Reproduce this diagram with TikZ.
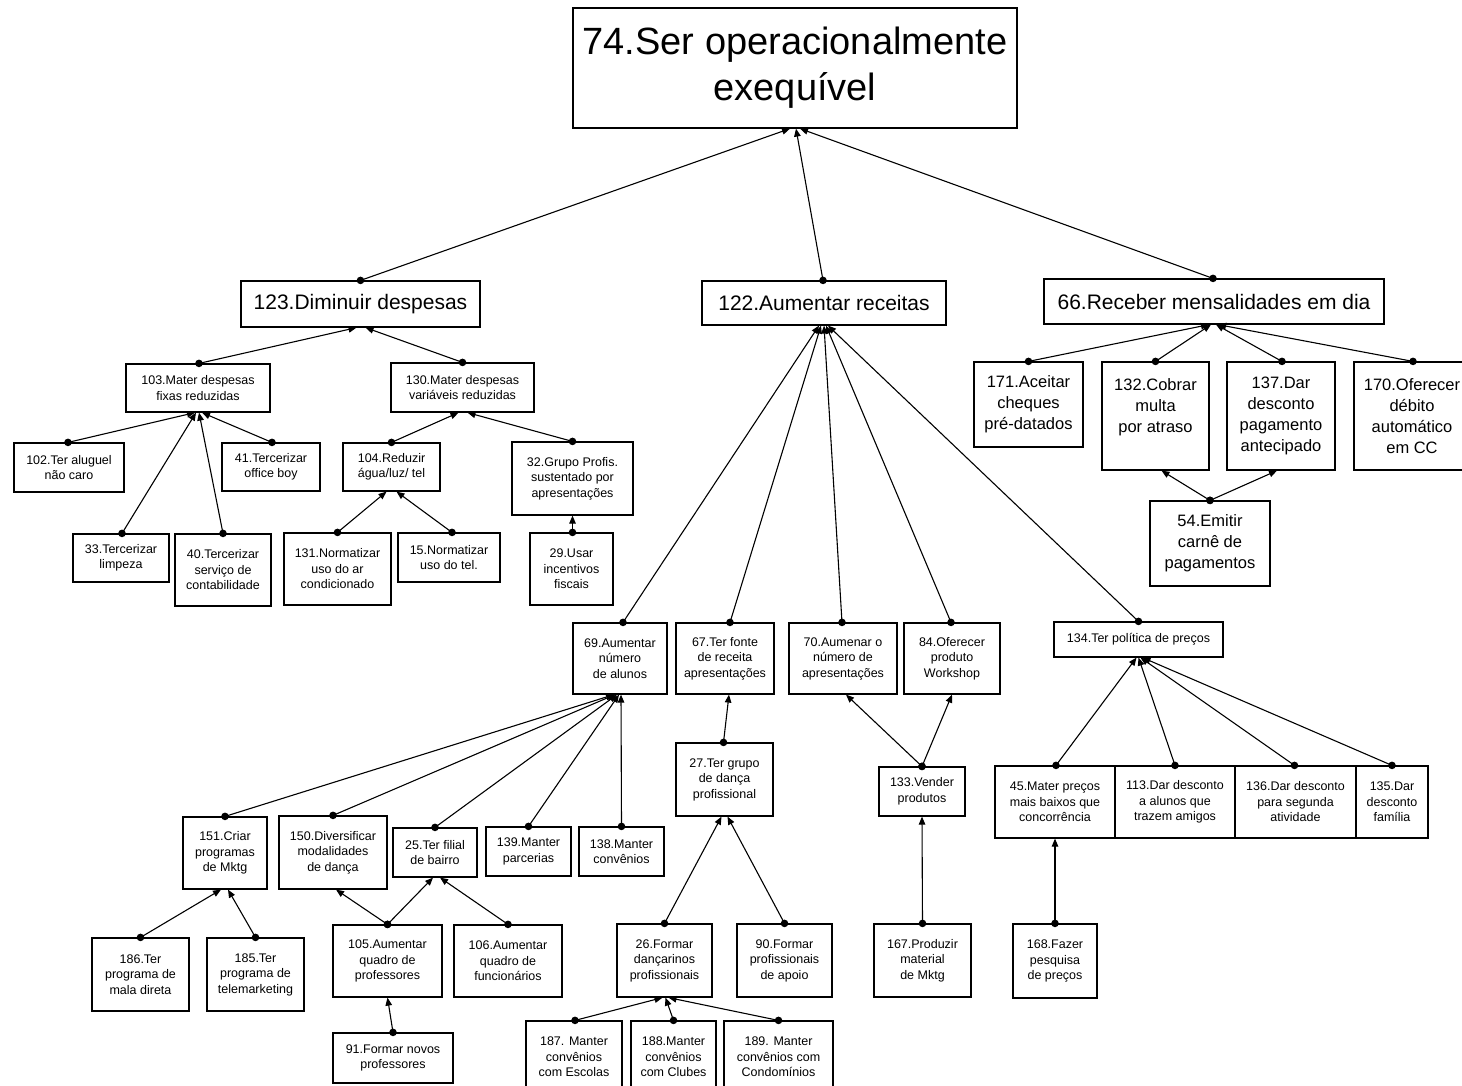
\documentclass[tikz,border=0pt]{standalone}
\usepackage{fontspec}
\setmainfont{Liberation Sans}
\usetikzlibrary{arrows.meta}
\tikzset{
 box/.style={draw=black, line width=1.2pt, align=center, inner sep=0pt, fill=white, font=\fontsize{12.5}{15.5}\selectfont},
 fm/.style={font=\fontsize{16.5}{21}\selectfont},
 fl/.style={font=\fontsize{21}{25}\selectfont},
 fxl/.style={font=\fontsize{38}{46}\selectfont},
 conn/.style={line width=1.1pt, -{Triangle[length=8pt,width=6.5pt]}},
}
\newcommand\bx[7][]{\node[box,#1,minimum width={(#5)-(#3)},minimum height={(#6)-(#4)}] (#2) at ({((#3)+(#5))/2},{((#4)+(#6))/2}) {#7};}
\newcommand\lk[4]{\draw[conn] ([xshift=#2]#1.north) -- ([xshift=#4]#3.south); \fill ([xshift=#2]#1.north) circle (3.8pt);}
\begin{document}
\begin{tikzpicture}[x=1pt,y=-1pt]
\useasboundingbox (0,0) rectangle (1462,1085);
\clip (0,0) rectangle (1462,1085);
\fill[white] (0,0) rectangle (1462,1085);
\bx[fxl]{n74}{573}{8}{1017}{128}{74.Ser operacionalmente\\exequível}
\bx[fl]{n123}{241}{281}{480}{327}{123.Diminuir despesas}
\bx[fl]{n122}{702}{281}{946}{325}{122.Aumentar receitas}
\bx[fl]{n66}{1044}{279}{1384}{324}{66.Receber mensalidades em dia}
\bx{n103}{126}{364}{270}{412}{103.Mater despesas\\fixas reduzidas}
\bx{n130}{391}{363}{534}{412}{130.Mater despesas\\variáveis reduzidas}
\bx{n102}{14}{443}{124}{492}{102.Ter aluguel\\não caro}
\bx{n41}{222}{443}{320}{491}{41.Tercerizar\\office boy}
\bx{n104}{343}{443}{440}{491}{104.Reduzir\\água/luz/ tel}
\bx{n32}{512}{442}{633}{515}{32.Grupo Profis.\\sustentado por\\apresentações}
\bx{n33}{73}{534}{169}{582}{33.Tercerizar\\limpeza}
\bx{n40}{175}{534}{271}{606}{40.Tercerizar\\serviço de\\contabilidade}
\bx{n131}{284}{533}{391}{605}{131.Normatizar\\uso do ar\\condicionado}
\bx{n15}{398}{533}{500}{582}{15.Normatizar\\uso do tel.}
\bx{n29}{530}{533}{613}{605}{29.Usar\\incentivos\\fiscais}
\bx[fm]{n171}{974}{362}{1083}{447}{171.Aceitar\\cheques\\pré-datados}
\bx[fm]{n132}{1102}{362}{1209}{470}{132.Cobrar\\multa\\por atraso\\\mbox{}}
\bx[fm]{n137}{1227}{362}{1335}{470}{137.Dar\\desconto\\pagamento\\antecipado}
\bx[fm]{n170}{1354}{362}{1470}{470}{170.Oferecer\\débito\\automático\\em CC}
\bx[fm]{n54}{1150}{501}{1270}{586}{54.Emitir\\carnê de\\pagamentos}
\bx{n69}{573}{623}{667}{694}{69.Aumentar\\número\\de alunos}
\bx{n67}{676}{623}{774}{694}{67.Ter fonte\\de receita\\apresentações}
\bx{n70}{789}{623}{897}{694}{70.Aumenar o\\número de\\apresentações}
\bx{n84}{904}{623}{1000}{694}{84.Oferecer\\produto\\Workshop}
\bx{n134}{1054}{622}{1223}{657}{134.Ter política de preços}
\bx{n27}{676}{743}{773}{816}{27.Ter grupo\\de dança\\profissional}
\bx{n133}{879}{767}{965}{816}{133.Vender\\produtos}
\bx{n45}{995}{766}{1115}{838}{45.Mater preços\\mais baixos que\\concorrência}
\bx{n113}{1115}{766}{1235}{838}{113.Dar desconto\\a alunos que\\trazem amigos}
\bx{n136}{1235}{766}{1356}{838}{136.Dar desconto\\para segunda\\atividade}
\bx{n135}{1356}{766}{1428}{838}{135.Dar\\desconto\\família}
\bx{n168}{1013}{924}{1097}{998}{168.Fazer\\pesquisa\\de preços}
\bx{n151}{183}{817}{267}{889}{151.Criar\\programas\\de Mktg}
\bx{n150}{279}{816}{387}{889}{150.Diversificar\\modalidades\\de dança}
\bx{n25}{393}{828}{477}{877}{25.Ter filial\\de bairro}
\bx{n139}{486}{827}{571}{876}{139.Manter\\parcerias}
\bx{n138}{579}{827}{664}{876}{138.Manter\\convênios}
\bx{n186}{92}{938}{189}{1011}{186.Ter\\programa de\\mala direta}
\bx{n185}{207}{938}{304}{1011}{185.Ter\\programa de\\telemarketing}
\bx{n105}{333}{925}{442}{997}{105.Aumentar\\quadro de\\professores}
\bx{n106}{454}{925}{562}{997}{106.Aumentar\\quadro de\\funcionários}
\bx{n91}{333}{1033}{453}{1083}{91.Formar novos\\professores}
\bx{n26}{617}{924}{712}{997}{26.Formar\\dançarinos\\profissionais}
\bx{n90}{737}{924}{832}{997}{90.Formar\\profissionais\\de apoio}
\bx{n167}{874}{924}{971}{997}{167.Produzir\\material\\de Mktg}
\bx{n187}{526}{1021}{622}{1093}{187. Manter\\convênios\\com Escolas}
\bx{n188}{631}{1021}{716}{1093}{188.Manter\\convênios\\com Clubes}
\bx{n189}{724}{1021}{833}{1093}{189. Manter\\convênios com\\Condomínios}
\lk{n123}{0}{n74}{-5}
\lk{n122}{-1}{n74}{1}
\lk{n66}{-1}{n74}{5}
\lk{n103}{1}{n123}{-4}
\lk{n130}{0}{n123}{5}
\lk{n102}{-1}{n103}{-3}
\lk{n33}{1}{n103}{-2}
\lk{n40}{0}{n103}{1}
\lk{n41}{1}{n103}{4}
\lk{n104}{0}{n130}{-4}
\lk{n32}{0}{n130}{5}
\lk{n131}{0}{n104}{-5}
\lk{n15}{3}{n104}{5}
\lk{n29}{1}{n32}{0}
\lk{n171}{0}{n66}{-5}
\lk{n132}{0}{n66}{-3}
\lk{n137}{1}{n66}{2}
\lk{n170}{1}{n66}{4}
\lk{n54}{0}{n132}{6}
\lk{n54}{0}{n137}{-4}
\lk{n69}{3}{n122}{-5}
\lk{n67}{5}{n122}{-3}
\lk{n70}{-1}{n122}{0}
\lk{n84}{-1}{n122}{2}
\lk{n134}{0}{n122}{4}
\lk{n27}{-1}{n67}{4}
\lk{n133}{0}{n70}{3}
\lk{n133}{0}{n84}{0}
\lk{n167}{0}{n133}{0}
\lk{n45}{1}{n134}{-2}
\lk{n113}{0}{n134}{0}
\lk{n136}{-1}{n134}{2}
\lk{n135}{0}{n134}{4}
\lk{n168}{0}{n45}{0}
\lk{n151}{0}{n69}{-6}
\lk{n150}{0}{n69}{-5}
\lk{n25}{0}{n69}{-3}
\lk{n139}{0}{n69}{-1}
\lk{n138}{0}{n69}{1}
\lk{n186}{0}{n151}{-4}
\lk{n185}{0}{n151}{3}
\lk{n105}{0}{n150}{3}
\lk{n105}{0}{n25}{-2}
\lk{n106}{0}{n25}{5}
\lk{n91}{0}{n105}{0}
\lk{n26}{0}{n27}{-3}
\lk{n90}{0}{n27}{3}
\lk{n187}{1}{n26}{-2}
\lk{n188}{0}{n26}{1}
\lk{n189}{0}{n26}{4}
\end{tikzpicture}
\end{document}
